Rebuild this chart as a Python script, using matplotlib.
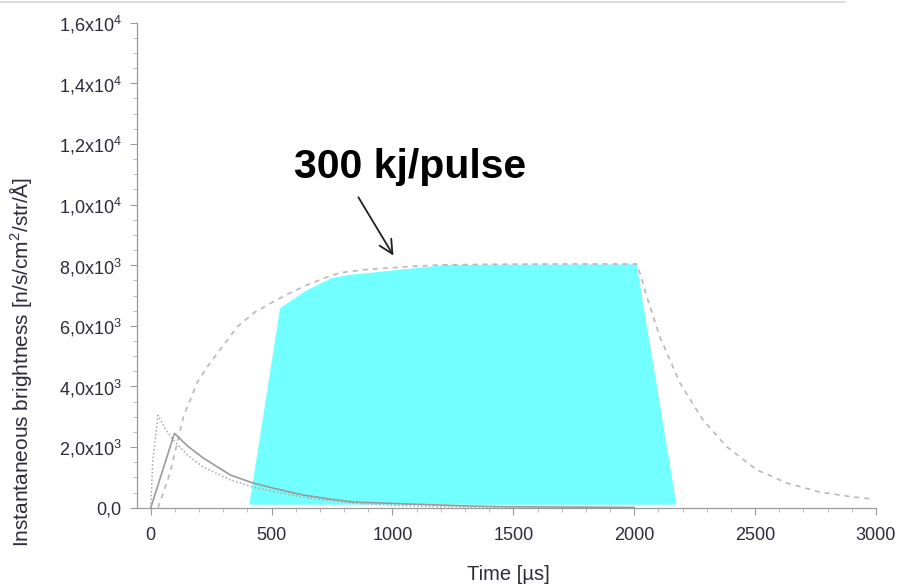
import matplotlib
matplotlib.use('Agg')
import matplotlib.pyplot as plt
from matplotlib.lines import Line2D
from matplotlib.ticker import MultipleLocator, FuncFormatter

plt.rcParams['font.family'] = ['Liberation Sans', 'DejaVu Sans']
plt.rcParams['mathtext.fontset'] = 'custom'
plt.rcParams['mathtext.rm'] = 'Liberation Sans'
plt.rcParams['mathtext.it'] = 'Liberation Sans'

# pulse shape, 300 kJ/pulse (dashed envelope)
t_pulse = [30, 80, 135, 191, 233, 300, 357, 430, 506, 580, 647, 720, 783, 880,
           990, 1100, 1197, 1400, 1700, 2010, 2030, 2052, 2106, 2189, 2284,
           2383, 2507, 2631, 2767, 2900, 2987]
b_pulse = [0, 1150, 3000, 4115, 4640, 5350, 5960, 6450, 6790, 7100, 7350, 7580,
           7750, 7850, 7910, 7970, 8010, 8030, 8040, 8040, 7600, 6960, 5640,
           4120, 2900, 2010, 1250, 815, 518, 360, 287]

# short pulse, solid
t_solid = [0, 98, 150, 217, 329, 423, 530, 630, 737, 837, 1000, 1114, 1300, 1500, 2000]
b_solid = [0, 2455, 2050, 1640, 1080, 815, 600, 420, 290, 190, 140, 110, 60, 30, 10]

# short pulse, dotted
t_dot = [0, 8, 30, 60, 100, 150, 217, 329, 423, 530, 630, 737, 837, 1000, 1200, 1500]
b_dot = [0, 1500, 3050, 2600, 2170, 1750, 1340, 915, 680, 500, 350, 240, 150, 80, 30, 10]

# useful window (cyan area)
t_fill = [408, 535, 640, 748, 810, 1224, 2010, 2175]
b_fill = [100, 6580, 7150, 7570, 7670, 8010, 8030, 100]

fig = plt.figure(figsize=(9.03, 5.85), dpi=100)
ax = fig.add_axes([0.1517, 0.1321, 0.8183, 0.8291])

ax.fill(t_fill, b_fill, color='#72ffff', lw=0, zorder=1)
ax.plot(t_pulse, b_pulse, color='#b8b8b8', lw=1.2, ls=(0, (3, 3)), zorder=3)
ax.plot(t_solid, b_solid, color='#9a9a9a', lw=1.2, zorder=3)
ax.plot(t_dot, b_dot, color='#a8a8a8', lw=1.1, ls=(0, (1, 1.5)), zorder=3)

ax.set_xlim(-57, 3000)
ax.set_ylim(0, 16000)

ax.xaxis.set_major_locator(MultipleLocator(500))
ax.xaxis.set_minor_locator(MultipleLocator(100))
ax.yaxis.set_major_locator(MultipleLocator(2000))
ax.yaxis.set_minor_locator(MultipleLocator(500))


def sci_comma(v, pos):
    if v == 0:
        return '0,0'
    e = len(str(int(v))) - 1
    m = v / 10 ** e
    return f'{m:.1f}'.replace('.', ',') + r'x10$^{%d}$' % e


ax.yaxis.set_major_formatter(FuncFormatter(sci_comma))

for s in ['top', 'right']:
    ax.spines[s].set_visible(False)
for s in ['left', 'bottom']:
    ax.spines[s].set_color('#9a9a9a')
    ax.spines[s].set_linewidth(0.9)

ax.tick_params(which='major', length=5, color='#9a9a9a', labelcolor='#2c2c3c',
               labelsize=13)
ax.tick_params(which='minor', length=3, color='#b0b0b0')
ax.tick_params(axis='x', which='major', pad=9)
ax.tick_params(axis='y', which='major', pad=6)

ax.set_xlabel('Time [µs]', fontsize=14.5, color='#2c2c3c')
ax.xaxis.set_label_coords(0.502, -0.118)
ax.set_ylabel('Instantaneous brightness [n/s/cm$^2$/str/Å]', fontsize=15,
              color='#2c2c3c')
ax.yaxis.set_label_coords(-0.140, 0.30)

ax.text(1072, 11240, '300 kj/pulse', fontsize=29.5, fontweight='bold',
        ha='center', va='center', color='black')
ax.annotate('', xy=(1010, 8240), xytext=(853, 10320),
            arrowprops=dict(arrowstyle='->,head_length=0.7,head_width=0.35',
                            color='#202020', lw=1.3, mutation_scale=14))

# thin rule along the top edge
fig.add_artist(Line2D([0, 845 / 903], [1 - 1.5 / 585] * 2, color='#d6d6d6',
                      lw=1.2, transform=fig.transFigure))

fig.savefig('out.png', dpi=100)
